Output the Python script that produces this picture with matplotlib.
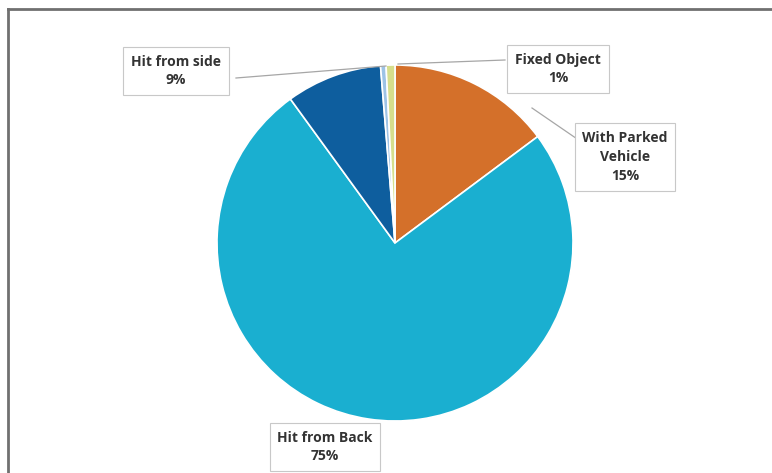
import matplotlib.pyplot as plt

# slice data, clockwise from 12 o'clock
categories = ['With Parked Vehicle', 'Hit from Back', 'Hit from side', 'Other', 'Fixed Object']
values = [14.8, 75.2, 8.7, 0.5, 0.8]
label_text = ['With Parked\nVehicle\n15%', 'Hit from Back\n75%', 'Hit from side\n9%', None, 'Fixed Object\n1%']
colors = ['#D4702A', '#1AAFD0', '#0E5E9E', '#9DC3E6', '#D6DE8C']

W, H = 772, 473
fig = plt.figure(figsize=(W / 100, H / 100), dpi=100)
ax = fig.add_axes([0, 0, 1, 1])

cx, cy, r = 395, H - 243, 178
ax.pie(values, colors=colors, startangle=90, counterclock=False,
       center=(cx, cy), radius=r,
       wedgeprops=dict(edgecolor='white', linewidth=1.2))
ax.set_xlim(0, W)
ax.set_ylim(0, H)
ax.set_aspect('equal')
ax.axis('off')

# label positions (pixels, y from top) and leader lines
label_pos = [(625, 157), (325, 447), (176, 71), None, (558, 69)]
leaders = [((583, 143), (532, 108)), None, ((236, 78), (386, 66)),
           None, ((505, 60), (398, 64))]

for txt, pos, ld in zip(label_text, label_pos, leaders):
    if txt is None:
        continue
    if ld is not None:
        (x0, y0), (x1, y1) = ld
        ax.plot([x0, x1], [H - y0, H - y1], color='#A6A6A6', lw=0.9)
    ax.text(pos[0], H - pos[1], txt, ha='center', va='center',
            fontsize=10, fontweight='bold', family='Open Sans', color='#333333',
            linespacing=1.45,
            bbox=dict(boxstyle='square,pad=0.55', fc='white', ec='#C8C8C8', lw=0.8))

# chart frame (only top and left visible in crop)
ax.plot([8, 8], [0, H - 9], color='#707070', lw=2)
ax.plot([8, W], [H - 9, H - 9], color='#707070', lw=2)

fig.savefig('out.png', dpi=100, facecolor='white')
